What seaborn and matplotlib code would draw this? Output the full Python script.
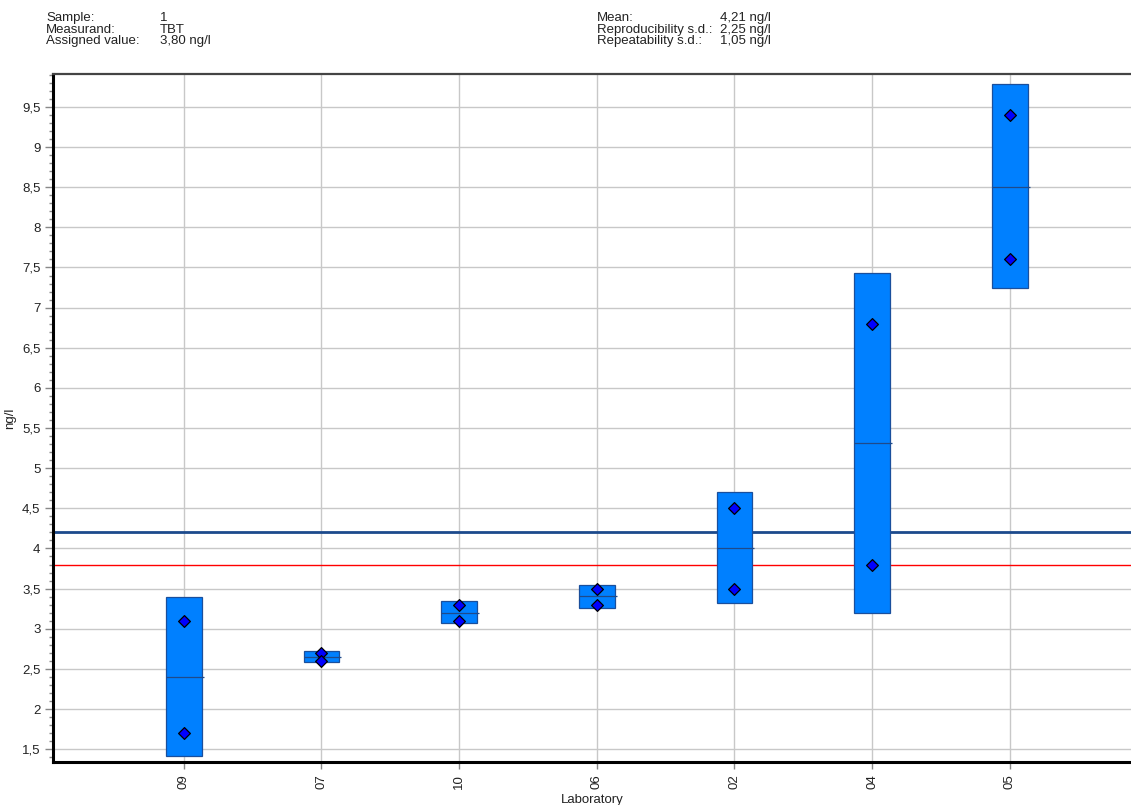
import matplotlib
matplotlib.use("Agg")
import matplotlib.pyplot as plt
from matplotlib.ticker import MultipleLocator, FuncFormatter
import seaborn as sns
import pandas as pd

# Proficiency test results per laboratory (ng/l)
labs = ["09", "07", "10", "06", "02", "04", "05"]
rep_1 = [3.10, 2.70, 3.30, 3.50, 4.50, 6.80, 9.40]
rep_2 = [1.70, 2.60, 3.10, 3.30, 3.50, 3.80, 7.60]
lab_mean = [2.40, 2.65, 3.20, 3.41, 4.00, 5.31, 8.50]
range_low = [1.42, 2.59, 3.07, 3.26, 3.32, 3.19, 7.24]
range_high = [3.39, 2.72, 3.34, 3.54, 4.70, 7.43, 9.78]

overall_mean = 4.21
assigned_value = 3.80

sns.set_theme(style="white")
plt.rcParams["font.family"] = ["Liberation Sans", "DejaVu Sans"]

fig = plt.figure(figsize=(11.31, 8.05), dpi=100)
ax = fig.add_axes([53 / 1131, 1 - 762 / 805, (1131 - 53) / 1131, (762 - 74) / 805])

points = pd.DataFrame({
    "Laboratory": labs * 2,
    "value": rep_1 + rep_2,
})

heights = [h - l for h, l in zip(range_high, range_low)]
ax.bar(labs, heights, bottom=range_low, width=0.26, color="#0080ff",
       edgecolor="#1a4f9c", linewidth=0.9, zorder=3)
for i, m in enumerate(lab_mean):
    ax.hlines(m, i - 0.13, i + 0.145, color="#1f4a8a", linewidth=0.9, zorder=4)

sns.scatterplot(data=points, x="Laboratory", y="value", ax=ax, marker="D",
                s=36, color="#0000ff", edgecolor="black", linewidth=0.9,
                zorder=5, legend=False)

ax.axhline(overall_mean, color="#1c4a8c", linewidth=2.0, zorder=2)
ax.axhline(assigned_value, color="#ff0000", linewidth=1.0, zorder=2)

ax.set_xlim(-0.95, 6.88)
ax.set_ylim(1.34, 9.91)
ax.yaxis.set_major_locator(MultipleLocator(0.5))
ax.yaxis.set_minor_locator(MultipleLocator(0.1))
ax.yaxis.set_major_formatter(FuncFormatter(
    lambda v, p: (f"{v:g}").replace(".", ",")))

ax.grid(True, which="major", color="#c8c8c8", linewidth=1.0, zorder=0)
ax.set_axisbelow(True)

for side in ["left", "bottom"]:
    ax.spines[side].set_color("black")
    ax.spines[side].set_linewidth(2.2)
ax.spines["top"].set_color("#444444")
ax.spines["top"].set_linewidth(1.6)
ax.spines["right"].set_visible(False)

ax.tick_params(axis="y", which="major", length=6, width=1, color="#888888",
               labelsize=9.5, labelcolor="#222222", left=True, pad=3)
ax.tick_params(axis="y", which="minor", length=3, width=1, color="#888888",
               left=True)
ax.tick_params(axis="x", which="major", length=5, width=1, color="#888888",
               labelsize=9.5, labelcolor="#222222", bottom=True, pad=4,
               labelrotation=90)

ax.set_xlabel("Laboratory", fontsize=9.5, color="#222222", labelpad=3)
ax.set_ylabel("ng/l", fontsize=9.5, color="#222222", labelpad=4)

# Header block with sample information and summary statistics
hdr = dict(fontsize=9.5, color="#222222", va="top", linespacing=0.95)
top = 1 - 12 / 805
fig.text(46 / 1131, top, "Sample:\nMeasurand:\nAssigned value:", **hdr)
fig.text(160 / 1131, top, "1\nTBT\n3,80 ng/l", **hdr)
fig.text(597 / 1131, top,
         "Mean:\nReproducibility s.d.:\nRepeatability s.d.:", **hdr)
fig.text(720 / 1131, top, "4,21 ng/l\n2,25 ng/l\n1,05 ng/l", **hdr)

fig.savefig("out.png", dpi=100)
